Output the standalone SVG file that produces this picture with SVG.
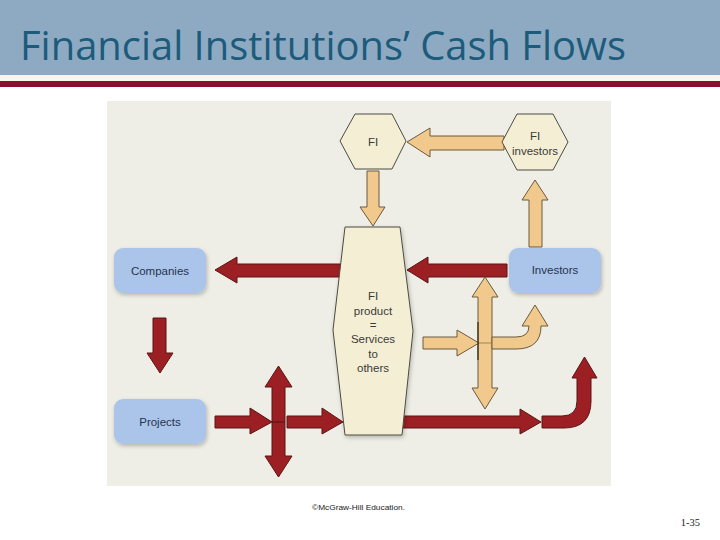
<svg xmlns="http://www.w3.org/2000/svg" width="720" height="540" viewBox="0 0 720 540">
<style>
.red{fill:#9c1f24;stroke:#5c1416;stroke-width:1;stroke-linejoin:miter}
.tan{fill:#f2c98c;stroke:#6b5a3c;stroke-width:1}
.hex{fill:#f4efd4;stroke:#4a4a44;stroke-width:1}
.box{fill:#abc5ea;filter:url(#sh)}
.lbl{font-family:"Liberation Sans",Arial,sans-serif;font-size:11.5px;fill:#3a3a3a;text-anchor:middle}
.blbl{font-family:"Liberation Sans",Arial,sans-serif;font-size:11.5px;fill:#253450;text-anchor:middle}
</style>
<defs>
<filter id="sh" x="-20%" y="-20%" width="140%" height="150%">
<feGaussianBlur in="SourceAlpha" stdDeviation="2"/>
<feOffset dx="1" dy="2" result="b"/>
<feComponentTransfer><feFuncA type="linear" slope="0.25"/></feComponentTransfer>
<feMerge><feMergeNode/><feMergeNode in="SourceGraphic"/></feMerge>
</filter>
</defs>
<rect width="720" height="540" fill="#ffffff"/>
<g id="header">
<rect x="0" y="0" width="720" height="75" fill="#8eaac3"/>
<rect x="0" y="75" width="720" height="6" fill="#f7f6e8"/>
<rect x="0" y="81" width="720" height="6" fill="#8a0f32"/>
<text x="20" y="60" font-family="'Open Sans','Noto Sans',sans-serif" font-size="41" fill="#1d5b7b" textLength="606" lengthAdjust="spacingAndGlyphs">Financial Institutions’ Cash Flows</text>
</g>
<rect id="panel" x="107" y="101" width="504" height="385" fill="#efeee6"/>
<g id="connectors">
<polygon class="red" points="507,264 428,264 428,257 407,270 428,283 428,277 507,277"/>
<polygon class="red" points="345,264 237,264 237,257 215,270 237,283 237,277 345,277"/>
<polygon class="red" points="153,318 166,318 166,353 173,353 160,373 147,353 153,353"/>
<polygon class="red" points="215,416 250,416 250,408 272,422 250,434 250,428 215,428"/>
<polygon class="red" points="278.5,366 292,387 285,387 285,456 292,456 278.5,477 265,456 272,456 272,387 265,387"/>
<line x1="272" y1="422" x2="285" y2="422" stroke="#5c1416" stroke-width="1.2"/>
<polygon class="red" points="287,416 322,416 322,408 343,422 322,434 322,428 287,428"/>
<polygon class="red" points="398,416 520,416 520,409 541,422 520,434 520,428 398,428"/>
<path class="red" d="M542,416 L562,416 Q577,416 577,401 L577,378 L572,378 L584.5,357 L597,378 L591,378 L591,401 Q591,428 564,428 L542,428 Z"/>
<polygon class="tan" points="504,136 430,136 430,128 407,142 430,157 430,150 504,150"/>
<polygon class="tan" points="367,171 379,171 379,207 385,207 373,226 360,207 367,207"/>
<polygon class="tan" points="529,247 542,247 542,200 548,200 535,180 522,200 529,200"/>
<polygon class="tan" points="485,277 498,297 492,297 492,388 498,388 485,409 472,388 478,388 478,297 472,297"/>
<path class="tan" d="M492,337 L516,337 Q529,337 529,326 L522,326 L535,305 L548,326 L541,326 Q541,349 516,349 L492,349 Z"/>
<polygon class="tan" points="423,337 457,337 457,330 479,343 457,356 457,349 423,349"/>
<line x1="478" y1="322" x2="478" y2="360" stroke="#3a3020" stroke-width="1.3"/>
<line x1="479" y1="343" x2="492" y2="343" stroke="#8a7550" stroke-width="0.8"/>
</g>
<g id="fi">
<polygon class="hex" points="340,141 355,114 392,114 406,141 392,169 355,169"/>
<text class="lbl" x="373" y="146">FI</text>
</g>
<g id="fi-investors">
<polygon class="hex" points="502,142 517,114 553,114 568,142 553,170 517,170"/>
<text class="lbl" x="535" y="140">FI</text>
<text class="lbl" x="535" y="155">investors</text>
</g>
<g id="fi-product">
<polygon class="hex" points="345,227 400,227 413,331 402,435 345,435 333,330" style="filter:url(#sh)"/>
<text class="lbl" x="373" y="300">FI</text>
<text class="lbl" x="373" y="315">product</text>
<text class="lbl" x="373" y="329">=</text>
<text class="lbl" x="373" y="343">Services</text>
<text class="lbl" x="373" y="358">to</text>
<text class="lbl" x="373" y="372">others</text>
</g>
<g id="companies">
<rect class="box" x="114" y="248" width="92" height="45" rx="9"/>
<text class="blbl" x="160" y="275">Companies</text>
</g>
<g id="projects">
<rect class="box" x="114" y="399" width="92" height="45" rx="9"/>
<text class="blbl" x="160" y="426">Projects</text>
</g>
<g id="investors">
<rect class="box" x="509" y="248" width="92" height="45" rx="9"/>
<text class="blbl" x="555" y="274">Investors</text>
</g>
<g id="footer">
<text x="312" y="510" font-family="'Liberation Sans',Arial,sans-serif" font-size="8" fill="#222" textLength="93" lengthAdjust="spacingAndGlyphs">©McGraw-Hill Education.</text>
<text x="700" y="526" font-family="'Liberation Serif','Times New Roman',serif" font-size="10.5" fill="#222" text-anchor="end">1-35</text>
</g>
</svg>
